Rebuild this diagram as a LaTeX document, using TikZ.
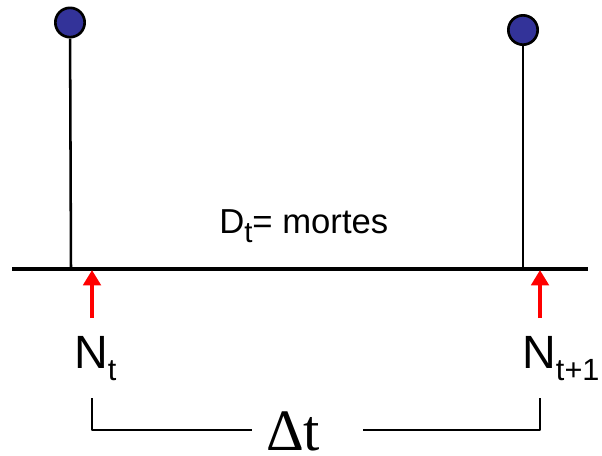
\documentclass[tikz,border=0pt]{standalone}
\usepackage{fontspec}
\setmainfont{Liberation Sans}
\newfontfamily\serifdelta{Liberation Serif}
\usetikzlibrary{arrows.meta}

\definecolor{ballblue}{HTML}{333399}
\definecolor{arrowred}{HTML}{FF0000}

% Low subscript: size, drop, text.
\newcommand\lowsub[3]{\raisebox{-#2}{\fontsize{#1}{#1}\selectfont #3}}

\begin{document}
\begin{tikzpicture}[
  x=0.75pt,
  y=-0.75pt,
  line join=round,
  axis/.style={draw=black,line width=3.4pt},
  stem/.style={draw=black,line width=1.9pt},
  ball/.style={circle,draw=black,line width=2pt,fill=ballblue,minimum size=22pt,inner sep=0pt},
  census/.style={draw=arrowred,line width=3.6pt,-{Triangle[width=13pt,length=11.5pt]}},
  brace/.style={draw=black,line width=2pt},
  label/.style={inner sep=0pt,anchor=base west}
]
  \useasboundingbox (0,0) rectangle (602,455);

  % Time axis.
  \coordinate (axisL) at (12,269);
  \coordinate (axisR) at (588,269);
  \draw[axis] (axisL) -- (axisR);

  % Individuals: a ball on a stem standing on the axis.
  \node[ball] (ballL) at (70,22.5) {};
  \node[ball] (ballR) at (523,30) {};
  \coordinate (footL) at (71,269);
  \coordinate (footR) at (523,269);
  \draw[stem] (ballL) -- (footL);
  \draw[stem] (ballR) -- (footR);

  \node[label,font=\fontsize{26}{31}\selectfont] (deaths) at (219,233)
    {D\lowsub{22}{7pt}{t}= mortes};

  % Census points, red arrows up to the axis.
  \coordinate (tipL) at (92,270);
  \coordinate (tipR) at (540,270);
  \coordinate (tailL) at (92,318);
  \coordinate (tailR) at (540,318);
  \draw[census] (tailL) -- (tipL);
  \draw[census] (tailR) -- (tipR);

  \node[label,font=\fontsize{35}{42}\selectfont] (nowN) at (74,368) {N\lowsub{23}{9pt}{t}};
  \node[label,font=\fontsize{35}{42}\selectfont] (nextN) at (522,368) {N\lowsub{23}{9pt}{t+1}};

  % Interval between the two censuses.
  \node[label,font=\serifdelta\fontsize{44}{52}\selectfont] (interval) at (266,450) {Δt};
  \coordinate (braceL) at (92,398);
  \coordinate (braceR) at (540,398);
  \coordinate (gapL) at (252,430);
  \coordinate (gapR) at (363,430);
  \draw[brace] (braceL) |- (gapL);
  \draw[brace] (gapR) -| (braceR);
\end{tikzpicture}
\end{document}
